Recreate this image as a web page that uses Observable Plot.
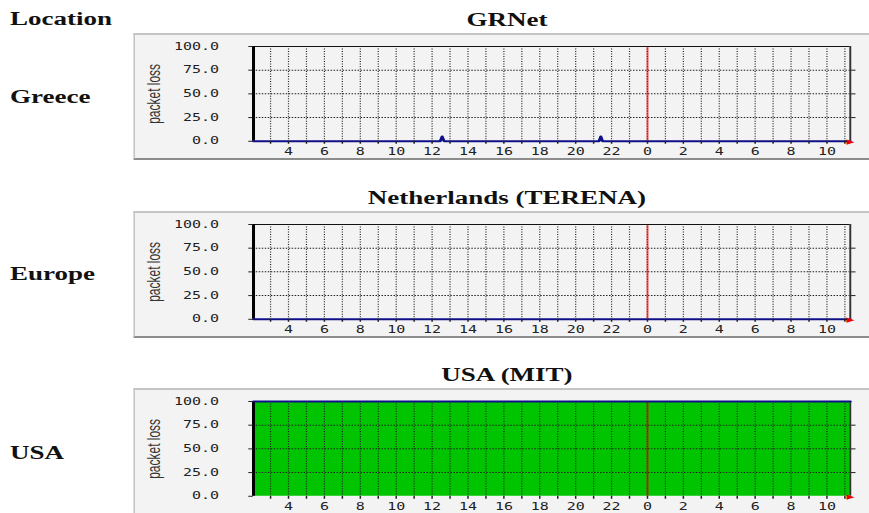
<!DOCTYPE html>
<html>
<head>
<meta charset="utf-8">
<script src="https://cdn.jsdelivr.net/npm/d3@7"></script>
<script src="https://cdn.jsdelivr.net/npm/@observablehq/plot@0.6"></script>
<style>
  html, body { margin: 0; padding: 0; background: #fff; overflow: hidden; width: 869px; height: 513px; }
  #stage { position: absolute; left: 0; top: 0; width: 580px; height: 513px; transform: scaleX(1.5); transform-origin: 0 0; }
  .lbl { position: absolute; font-family: "Liberation Serif", "Times New Roman", serif; font-weight: bold; font-size: 18px; line-height: 18px; white-space: nowrap; color: #111; }
  .ttl { left: 238px; width: 200px; text-align: center; }
  .panel { position: absolute; left: 88.67px; width: 491px; height: 127px; background: #f3f3f3; box-sizing: border-box;
           border-top: 2px solid #c4c4c4; border-left: 1.5px solid #c4c4c4; border-bottom: 2px solid #8c8c8c; }
  .panel svg { position: absolute; left: -1.5px; top: -2px; overflow: visible; }
</style>
</head>
<body>
<div id="stage"></div>
<script>
// ---- data ----
const headerLabel = "Location";
const locations = ["Greece", "Europe", "USA"];
const titles = ["GRNet", "Netherlands (TERENA)", "USA (MIT)"];
const yLabel = "packet loss";

// hours since midnight of the first day (24 = midnight, second day)
const timeDomain = [2.05, 35.3];
const greeceHours = [2.05, 12.45, 12.56, 12.67, 21.3, 21.4, 21.5, 35.3];
const greeceLoss  = [0, 0, 5, 0, 0, 5, 0, 0];
const europeHours = [2.05, 35.3];
const europeLoss  = [0, 0];
const usaHours    = [2.05, 35.3];
const usaLoss     = [100, 100];

const yTicks = [0, 25, 50, 75, 100];
const yGrid = [25, 50, 75];
const hourTicks = [3, 4, 5, 6, 7, 8, 9, 10, 11, 12, 13, 14, 15, 16, 17, 18, 19, 20, 21, 22, 23, 24,
                   25, 26, 27, 28, 29, 30, 31, 32, 33, 34, 35];
const labelHours = [4, 6, 8, 10, 12, 14, 16, 18, 20, 22, 24, 26, 28, 30, 32, 34];
const midnight = [24];

const series = [
  {hours: greeceHours, loss: greeceLoss},
  {hours: europeHours, loss: europeLoss},
  {hours: usaHours, loss: usaLoss}
];

// ---- layout ----
const stage = document.getElementById("stage");
const panelTops = [33, 211, 388];
const titleTops = [11, 189, 366];
const locTops = [88, 265, 444];

function addLabel(text, cls, top, left) {
  const d = document.createElement("div");
  d.className = "lbl " + cls;
  d.textContent = text;
  d.style.top = top + "px";
  if (left != null) d.style.left = left + "px";
  stage.appendChild(d);
}

addLabel(headerLabel, "", 10, 6.67);

function chart(hours, loss) {
  const data = hours.map((h, i) => ({hour: h, loss: loss[i]}));
  return Plot.plot({
    width: 491,
    height: 127,
    marginLeft: 80.67,
    marginRight: 11.66,
    marginTop: 13,
    marginBottom: 19,
    x: {domain: timeDomain},
    y: {domain: [0, 100]},
    style: {background: "transparent", fontFamily: "DejaVu Sans Mono, monospace", fontSize: "10px", color: "#222", overflow: "visible"},
    marks: [
      Plot.areaY(data, {x: "hour", y: "loss", fill: "#00c400"}),
      Plot.ruleX(hourTicks, {stroke: "#222", strokeWidth: 0.8, strokeDasharray: "1,1.5"}),
      Plot.ruleY(yGrid, {stroke: "#222", strokeWidth: 1, strokeDasharray: "1,1"}),
      Plot.ruleX(midnight, {stroke: "#e00000", strokeWidth: 1.4, strokeOpacity: 0.6}),
      Plot.ruleY([100], {stroke: "#111", strokeWidth: 1}),
      Plot.ruleX([timeDomain[0]], {stroke: "#000", strokeWidth: 2}),
      Plot.ruleX([timeDomain[1]], {stroke: "#333", strokeWidth: 1.3}),
      Plot.lineY(data, {x: "hour", y: "loss", stroke: "#10108a", strokeWidth: 2}),
      Plot.axisY({ticks: yTicks, tickSize: 3, tickPadding: 20, tickFormat: d3.format(".1f"), label: null, fill: "#222"}),
      Plot.axisY({anchor: "right", ticks: yGrid, tickSize: 3, tickFormat: () => "", label: null}),
      Plot.axisX({ticks: hourTicks, tickSize: 3, tickFormat: () => "", label: null}),
      Plot.axisX({ticks: labelHours, tickSize: 0, tickPadding: 7, tickFormat: d => String(d % 24), label: null, fill: "#222"}),
      Plot.text([yLabel], {frameAnchor: "left", textAnchor: "middle", rotate: -90, dx: -66, fontFamily: "Liberation Sans, Arial, sans-serif", fontSize: 12, fill: "#333"}),
      Plot.text(["\u25B6"], {x: () => timeDomain[1], y: () => 0, textAnchor: "start", dx: -2.5, dy: 0.5, fontFamily: "DejaVu Sans", fontSize: 7, fill: "#ee0000"})
    ]
  });
}

series.forEach((s, i) => {
  addLabel(titles[i], "ttl", titleTops[i]);
  addLabel(locations[i], "", locTops[i], 6.67);
  const p = document.createElement("div");
  p.className = "panel";
  p.style.top = panelTops[i] + "px";
  p.appendChild(chart(s.hours, s.loss));
  stage.appendChild(p);
});
</script>
</body>
</html>
